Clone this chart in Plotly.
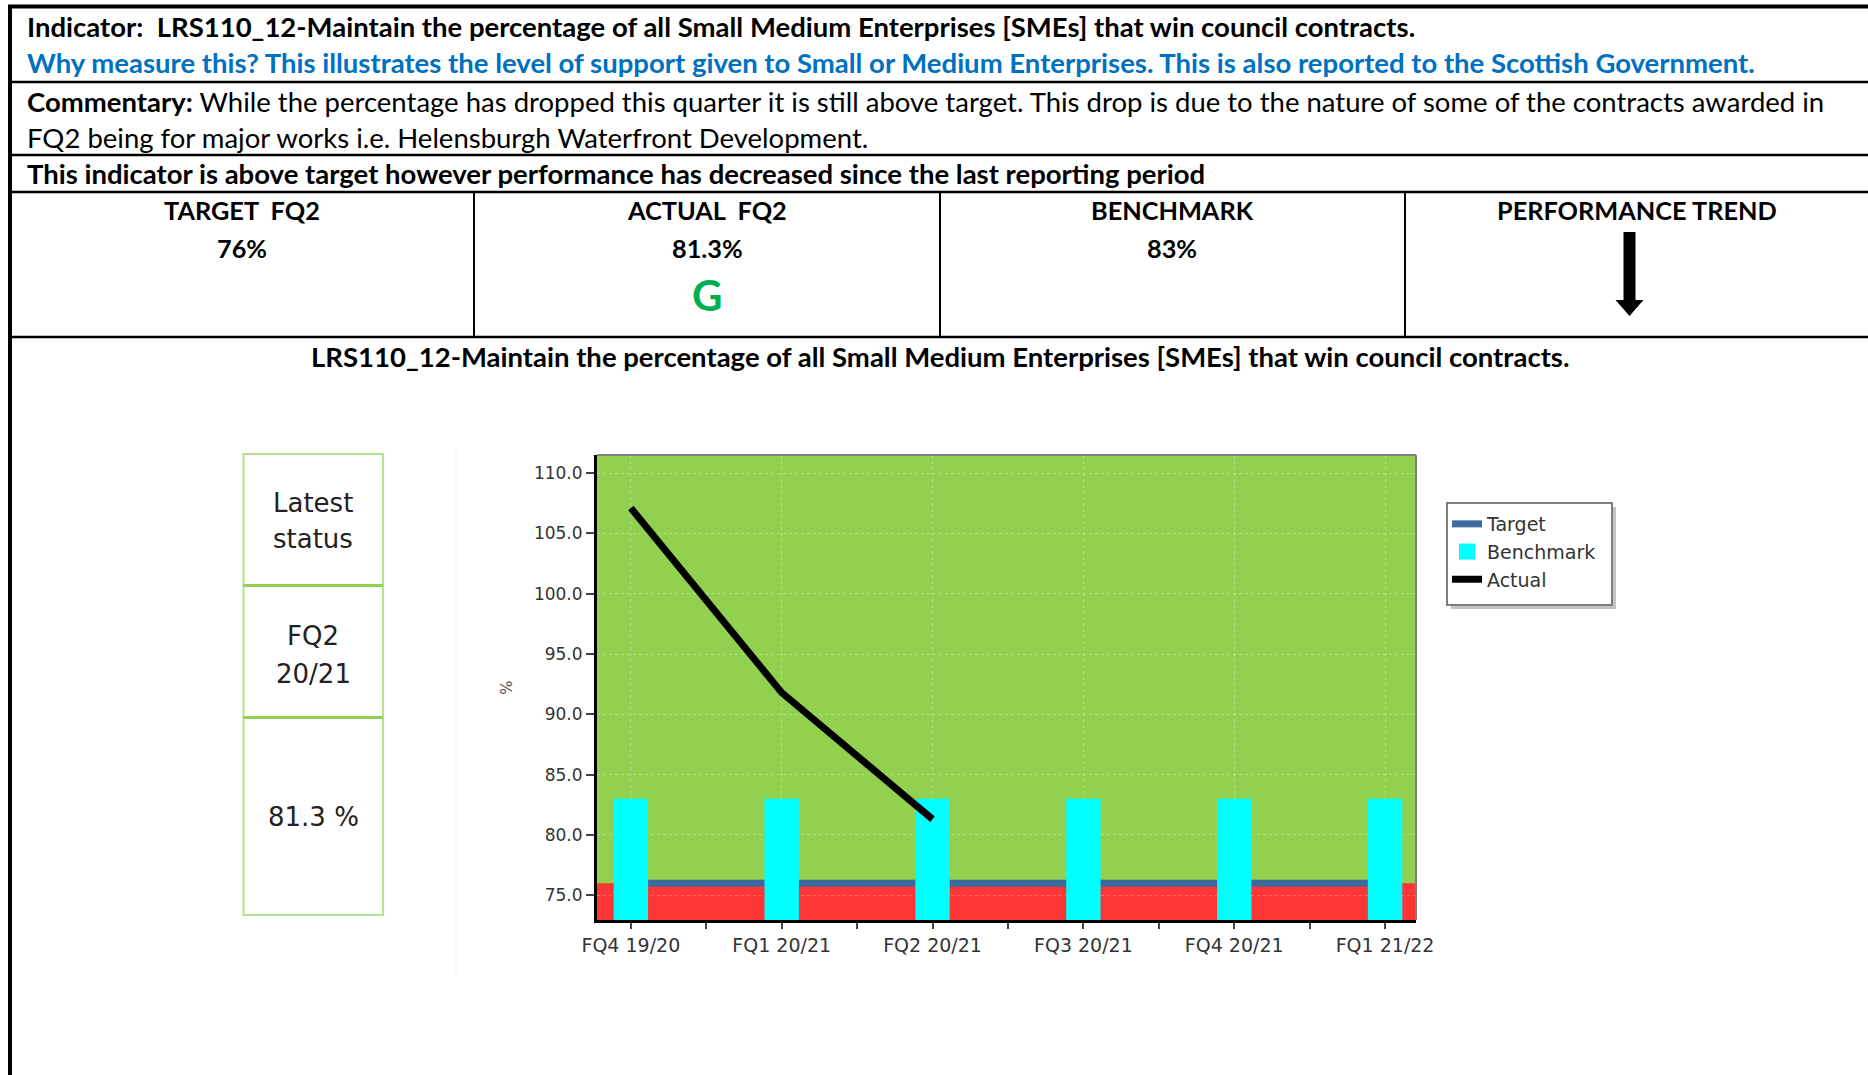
import plotly.graph_objects as go

# ---- data -------------------------------------------------------------
categories = ["FQ4 19/20", "FQ1 20/21", "FQ2 20/21", "FQ3 20/21", "FQ4 20/21", "FQ1 21/22"]
actual = [107.1, 91.8, 81.3, None, None, None]
target = [76, 76, 76, 76, 76, 76]
benchmark = [83, 83, 83, 83, 83, 83]

y_ticks = [75, 80, 85, 90, 95, 100, 105, 110]
latest_idx = 2
target_fq2 = 76
benchmark_value = 83

# ---- page geometry (pixels -> paper) ---------------------------------
W, H = 1868, 1075


def px(x):
    return x / W


def py(y):
    return 1 - y / H


TABLE_FONT = "Lato"
CHART_FONT = "DejaVu Sans"
BENCH_COLOR = "#00FFFF"
positions = list(range(len(categories)))
Y_MIN, Y_MAX = 72.95, 111.5

fig = go.Figure()

# Benchmark bars (legend entry drawn by a larger square key below)
fig.add_trace(go.Bar(
    x=positions, y=benchmark, width=0.228, name="Benchmark", legendgroup="bench",
    marker=dict(color=BENCH_COLOR, line=dict(width=0)), showlegend=False,
))
fig.add_trace(go.Scatter(
    x=[None], y=[None], mode="markers", name="Benchmark", legendgroup="bench",
    marker=dict(symbol="square", size=16, color=BENCH_COLOR), legendrank=2,
))

# Actual line
fig.add_trace(go.Scatter(
    x=positions, y=actual, mode="lines", name="Actual",
    line=dict(color="black", width=7), legendrank=3,
))

shapes = []

# red band below target
shapes.append(dict(type="rect", xref="x domain", yref="y", x0=0, x1=1,
                   y0=Y_MIN, y1=target[0], fillcolor="#FC3535",
                   line=dict(width=0), layer="below"))
# target line (beneath the bars)
shapes.append(dict(type="line", xref="x", yref="y", x0=positions[0], x1=positions[-1],
                   y0=target[0], y1=target[-1], line=dict(color="#3D6A9C", width=7),
                   layer="between", showlegend=True, name="Target", legendrank=1))
# plot frame top/right
shapes.append(dict(type="line", xref="x domain", yref="y domain", x0=0, x1=1, y0=1, y1=1,
                   line=dict(color="#7F7F7F", width=2), layer="above"))
shapes.append(dict(type="line", xref="x domain", yref="y domain", x0=1, x1=1, y0=0, y1=1,
                   line=dict(color="#7F7F7F", width=2), layer="above"))


def pline(x0, y0, x1, y1, color="black", width=2.5):
    shapes.append(dict(type="line", xref="paper", yref="paper",
                       x0=px(x0), y0=py(y0), x1=px(x1), y1=py(y1),
                       line=dict(color=color, width=width), layer="above"))


def prect(x0, y0, x1, y1, fill, line_color=None, line_width=0, layer="above"):
    shapes.append(dict(type="rect", xref="paper", yref="paper",
                       x0=px(x0), x1=px(x1), y0=py(y0), y1=py(y1), fillcolor=fill,
                       line=dict(color=line_color or fill, width=line_width), layer=layer))


# table borders
pline(8, 6.5, W, 6.5, width=4)
pline(10, 5, 10, H, width=4)
for yy in (82, 155, 192, 337):
    pline(10, yy, W, yy, width=2.5)
for xx in (474, 940, 1405):
    pline(xx, 192, xx, 337, width=2)

# faint divider beside the status panel
pline(456, 447, 456, 975, color="#F2F2F2", width=1)

# status panel
prect(243.5, 454, 383, 915, "white", "#B5E08E", 2, layer="below")
pline(243.5, 585.5, 383, 585.5, color="#92D050", width=3)
pline(243.5, 717.5, 383, 717.5, color="#92D050", width=3)

# performance trend arrow
ax = 1629.5
arrow_path = (f"M {px(ax-6)},{py(232)} L {px(ax+6)},{py(232)} L {px(ax+6)},{py(300)} "
              f"L {px(ax+14)},{py(300)} L {px(ax)},{py(316)} L {px(ax-14)},{py(300)} "
              f"L {px(ax-6)},{py(300)} Z")
shapes.append(dict(type="path", xref="paper", yref="paper", path=arrow_path,
                   fillcolor="black", line=dict(width=0), layer="above"))

# legend frame with drop shadow
prect(1451, 507, 1616, 609, "#C4C4C4")
prect(1447, 503, 1612, 605, "white", "#7F7F7F", 2)

annotations = []


def text(x, y, s, size=27.5, color="black", xanchor="left", family=TABLE_FONT):
    annotations.append(dict(x=px(x), y=py(y), xref="paper", yref="paper", text=s,
                            showarrow=False, xanchor=xanchor, yanchor="middle",
                            font=dict(family=family, size=size, color=color)))


NB = "\u00a0"
title_text = "LRS110_12-Maintain the percentage of all Small Medium Enterprises [SMEs] that win council contracts."
text(25, 27, f"<b>Indicator:{NB} {title_text}</b>")
text(25, 63, "<b>Why measure this? This illustrates the level of support given to Small or Medium "
             "Enterprises. This is also reported to the Scottish Government.</b>", color="#0070C0")
text(25, 101, "<b>Commentary:</b> While the percentage has dropped this quarter it is still above "
              "target. This drop is due to the nature of some of the contracts awarded in")
text(25, 137, "FQ2 being for major works i.e. Helensburgh Waterfront Development.")
text(25, 174, "<b>This indicator is above target however performance has decreased since the last "
              "reporting period</b>")

col_centers = [242, 707, 1172, 1637]
HS = 25.3
text(col_centers[0], 210.5, f"<b>TARGET{NB} FQ2</b>", size=HS, xanchor="center")
text(col_centers[0], 247.5, f"<b>{target_fq2}%</b>", size=HS, xanchor="center")
text(col_centers[1], 210.5, f"<b>ACTUAL{NB} FQ2</b>", size=HS, xanchor="center")
text(col_centers[1], 247.5, f"<b>{actual[latest_idx]}%</b>", size=HS, xanchor="center")
text(col_centers[1], 295, "<b>G</b>", size=42, color="#00B050", xanchor="center")
text(col_centers[2], 210.5, "<b>BENCHMARK</b>", size=HS, xanchor="center")
text(col_centers[2], 247.5, f"<b>{benchmark_value}%</b>", size=HS, xanchor="center")
text(col_centers[3], 210.5, "<b>PERFORMANCE TREND</b>", size=HS, xanchor="center")

text(940, 356, f"<b>{title_text}</b>", xanchor="center")

# status panel text
period_q, period_y = categories[latest_idx].split(" ")
for yy, s in ((503, "Latest"), (539, "status"), (636, period_q), (674, period_y),
              (817, f"{actual[latest_idx]} %")):
    text(313, yy, s, size=26, color="#222222", xanchor="center", family=CHART_FONT)

fig.update_layout(
    width=W, height=H, autosize=False,
    margin=dict(l=0, r=0, t=0, b=0, autoexpand=False),
    paper_bgcolor="white", plot_bgcolor="#92D050",
    shapes=shapes, annotations=annotations,
    showlegend=True,
    legend=dict(x=px(1447), y=py(505), xanchor="left", yanchor="top",
                bgcolor="rgba(0,0,0,0)", borderwidth=0,
                font=dict(family=CHART_FONT, size=19, color="#333333"),
                itemwidth=30, tracegroupgap=0, traceorder="normal"),
    xaxis=dict(
        domain=[px(597), px(1416)], range=[-0.2246, 5.205], automargin=False,
        tickmode="array", tickvals=positions, ticktext=categories,
        showline=True, linecolor="black", linewidth=3,
        ticks="outside", ticklen=6, tickwidth=2, tickcolor="#444444",
        tickfont=dict(family=CHART_FONT, size=19, color="#333333"),
        showgrid=True, gridcolor="rgba(255,255,255,0.3)", griddash="dot", gridwidth=1,
        zeroline=False,
        minor=dict(tickvals=[p + 0.5 for p in positions[:-1]], ticks="outside",
                   ticklen=6, tickwidth=2, tickcolor="#444444", showgrid=False),
    ),
    yaxis=dict(
        domain=[py(920), py(455)], range=[Y_MIN, Y_MAX], automargin=False,
        tickmode="array", tickvals=y_ticks, tickformat=".1f",
        showline=True, linecolor="black", linewidth=3,
        ticks="outside", ticklen=8, tickwidth=2, tickcolor="#444444",
        tickfont=dict(family=CHART_FONT, size=17, color="#333333"),
        showgrid=True, gridcolor="rgba(255,255,255,0.3)", griddash="dot", gridwidth=1,
        zeroline=False,
        title=dict(text="%", standoff=18, font=dict(family=CHART_FONT, size=15, color="#555555")),
    ),
)

fig.write_html("out.html")
